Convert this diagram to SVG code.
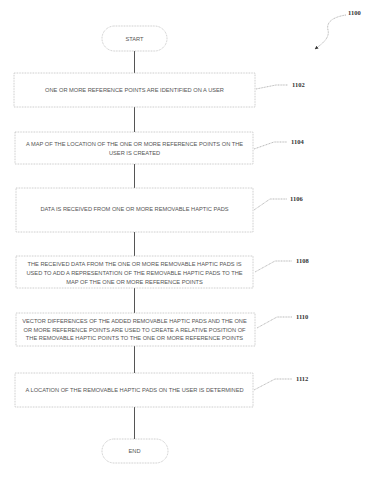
<svg xmlns="http://www.w3.org/2000/svg" width="384" height="478" viewBox="0 0 384 478">
<defs>
<style>
.box{fill:#fff;stroke:#aaa;stroke-width:0.7;stroke-dasharray:0.8 0.8}
.t{font-family:"Liberation Sans",Arial,sans-serif;font-size:5.7px;fill:#555;text-anchor:middle}
.lbl{font-family:"Liberation Serif","Times New Roman",serif;font-size:6.5px;fill:#333;font-weight:bold}
.lead{fill:none;stroke:#999;stroke-width:0.7;stroke-dasharray:1 0.6}
.conn{stroke:#555;stroke-width:1;fill:none}
</style>
<marker id="ah" viewBox="0 0 10 10" refX="9" refY="5" markerWidth="5" markerHeight="5" orient="auto-start-reverse">
<path d="M0,0 L10,5 L0,10 z" fill="#333"/>
</marker>
</defs>
<rect width="384" height="478" fill="#fff"/>
<g id="connectors">
<line class="conn" x1="134.5" y1="51" x2="134.5" y2="73"/>
<line class="conn" x1="134.5" y1="107" x2="134.5" y2="132"/>
<line class="conn" x1="134.5" y1="164" x2="134.5" y2="188"/>
<line class="conn" x1="134.5" y1="232" x2="134.5" y2="256"/>
<line class="conn" x1="134.5" y1="288" x2="134.5" y2="313"/>
<line class="conn" x1="134.5" y1="346" x2="134.5" y2="373"/>
<line class="conn" x1="134.5" y1="407" x2="134.5" y2="439"/>
</g>
<g id="ref1100">
<text class="lbl" x="348" y="15">1100</text>
<path class="lead" d="M346,15 C333,17 326,22 328,30 C330,38 322,44 315,49" marker-end="url(#ah)"/>
</g>
<g id="start">
<rect class="box" x="102" y="26" width="65" height="25" rx="12.5"/>
<text class="t" x="134.5" y="40.8">START</text>
</g>
<g id="n1102">
<rect class="box" x="14" y="73" width="241" height="34"/>
<text class="t" x="134.5" y="91.5">ONE OR MORE REFERENCE POINTS ARE IDENTIFIED ON A USER</text>
<path class="lead" d="M256,89 L276,85 L288,85"/>
<text class="lbl" x="292" y="87">1102</text>
</g>
<g id="n1104">
<rect class="box" x="15" y="132" width="238" height="32"/>
<text class="t" x="134.5" y="146">A MAP OF THE LOCATION OF THE  ONE OR MORE REFERENCE POINTS  ON THE</text>
<text class="t" x="134.5" y="155">USER IS CREATED</text>
<path class="lead" d="M254,149 L274,142 L287,142"/>
<text class="lbl" x="291" y="144">1104</text>
</g>
<g id="n1106">
<rect class="box" x="16" y="188" width="237" height="44"/>
<text class="t" x="134.5" y="211">DATA IS RECEIVED FROM ONE OR MORE REMOVABLE HAPTIC PADS</text>
<path class="lead" d="M254,210 L270,199 L287,199"/>
<text class="lbl" x="290" y="201">1106</text>
</g>
<g id="n1108">
<rect class="box" x="16" y="256" width="237" height="32"/>
<text class="t" x="134.5" y="266">THE RECEIVED DATA FROM THE ONE OR MORE REMOVABLE HAPTIC PADS  IS</text>
<text class="t" x="134.5" y="275">USED TO ADD A REPRESENTATION OF THE  REMOVABLE HAPTIC PADS TO THE</text>
<text class="t" x="134.5" y="283.5">MAP OF THE ONE OR MORE REFERENCE POINTS</text>
<path class="lead" d="M255,272 L275,261 L292,261"/>
<text class="lbl" x="296" y="263">1108</text>
</g>
<g id="n1110">
<rect class="box" x="16" y="313" width="239" height="33"/>
<text class="t" x="134.5" y="323">VECTOR DIFFERENCES OF THE ADDED REMOVABLE HAPTIC PADS AND THE ONE</text>
<text class="t" x="134.5" y="331.5">OR MORE REFERENCE POINTS ARE USED TO CREATE A RELATIVE POSITION OF</text>
<text class="t" x="134.5" y="340">THE  REMOVABLE HAPTIC POINTS TO THE ONE OR MORE REFERENCE POINTS</text>
<path class="lead" d="M257,328 L277,317 L292,317"/>
<text class="lbl" x="296" y="319">1110</text>
</g>
<g id="n1112">
<rect class="box" x="15" y="373" width="238" height="34"/>
<text class="t" x="134.5" y="392">A LOCATION OF THE  REMOVABLE HAPTIC PADS  ON THE USER IS DETERMINED</text>
<path class="lead" d="M254,390 L275,379 L292,379"/>
<text class="lbl" x="296" y="381">1112</text>
</g>
<g id="end">
<rect class="box" x="102" y="439" width="66" height="24" rx="12"/>
<text class="t" x="134.5" y="453">END</text>
</g>
</svg>
